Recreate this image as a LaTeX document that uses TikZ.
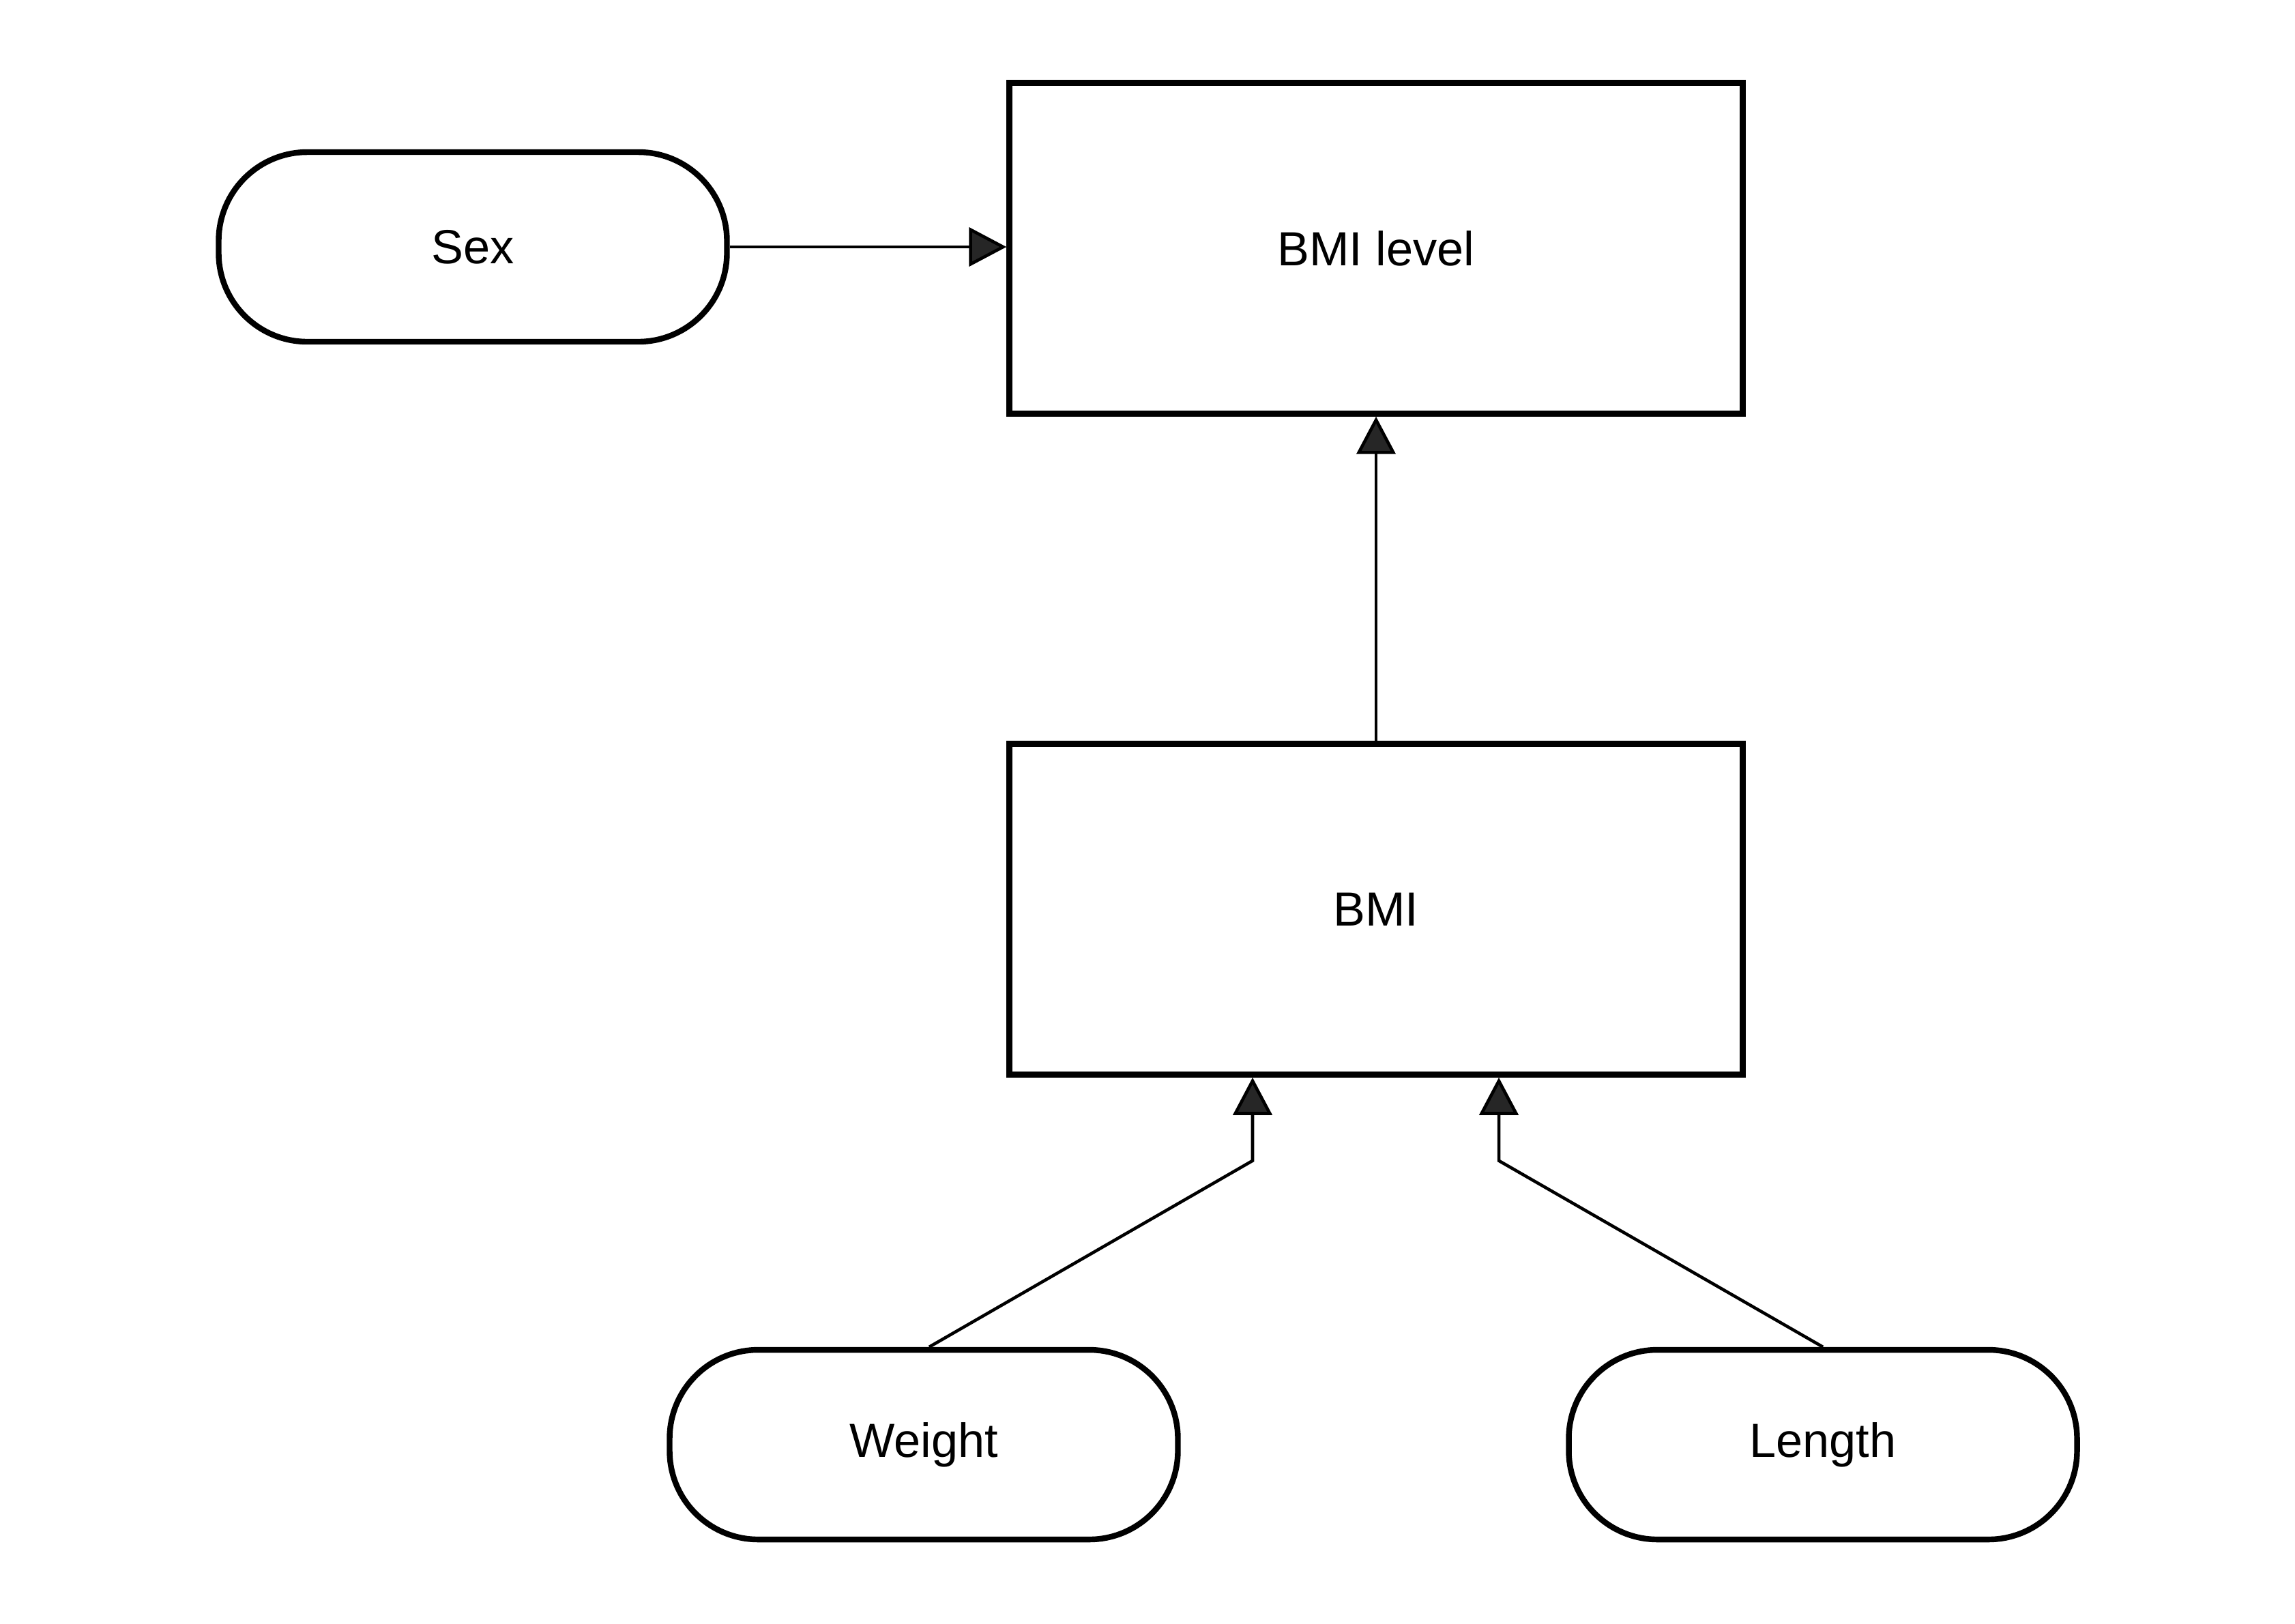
\documentclass[tikz,border=0pt]{standalone}
\usepackage{fontspec}
\setmainfont{Liberation Sans}
\usetikzlibrary{arrows.meta, positioning}

\begin{document}
\begin{tikzpicture}[>={Triangle[length=5.5mm,width=5.7mm,fill=black!85]},
  box/.style={draw, line width=2.4pt, minimum width=10.75cm, minimum height=4.85cm, font=\fontsize{20}{24}\selectfont},
  pill/.style={draw, line width=2.4pt, rounded corners=1.3cm, minimum width=7.45cm, minimum height=2.78cm, font=\fontsize{20}{24}\selectfont},
  link/.style={->, line width=1.3pt, draw=black}]
  \useasboundingbox (0,0) rectangle (33.64,-23.80);
  \fill[white] (0,0) rectangle (33.64,-23.80);

  \node[box] (level) at (20.17,-3.64) {BMI level};
  \node[pill] (sex) at (6.93,-3.62) {Sex};
  \node[box] (bmi) at (20.17,-13.33) {BMI};
  \node[pill] (weight) at (13.54,-21.18) {Weight};
  \node[pill] (length) at (26.72,-21.18) {Length};

  % bends below the BMI box
  \coordinate (wbend) at ([xshift=-1.81cm,yshift=-1.22cm]bmi.south);
  \coordinate (lbend) at ([xshift=1.80cm,yshift=-1.22cm]bmi.south);

  \draw[link] (sex.east) -- (sex.east -| level.west);
  \draw[link] (bmi.north) -- (level.south);
  \draw[link] ([xshift=0.08cm]weight.north) -- (wbend) -- (wbend |- bmi.south);
  \draw[link] (length.north) -- (lbend) -- (lbend |- bmi.south);
\end{tikzpicture}
\end{document}
